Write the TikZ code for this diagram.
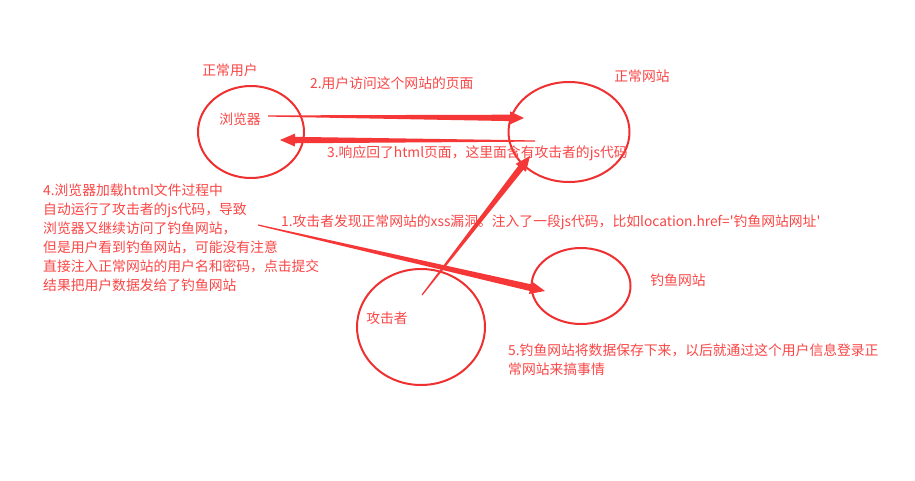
\documentclass[tikz,border=0pt]{standalone}
\usepackage{fontspec}
\setmainfont{Noto Sans CJK SC}
\usetikzlibrary{calc,shapes.geometric}
\definecolor{txtred}{RGB}{250,70,70}
\definecolor{lnred}{RGB}{238,48,48}
\definecolor{arred}{RGB}{245,55,55}
\tikzset{
  site/.style={ellipse, draw=lnred, line width=2pt, inner sep=0pt},
  txt/.style={text=txtred, inner sep=0pt, font=\fontsize{13.8}{19}\selectfont},
}
% tapered arrow: #1 start, #2 tip, #3 head length, #4 shaft half width, #5 head half width
\newcommand\taparrow[5]{%
  \coordinate (tah) at ($(#2)!#3!(#1)$);
  \fill[arred] ($(#1)!0.6pt!90:(#2)$) -- ($(tah)!#4!-90:(#1)$) -- ($(tah)!#5!-90:(#1)$)
    -- (#2) -- ($(tah)!#5!90:(#1)$) -- ($(tah)!#4!90:(#1)$) -- ($(#1)!0.6pt!-90:(#2)$) -- cycle;}
\begin{document}
\begin{tikzpicture}[x=1pt,y=-1pt]
\useasboundingbox[fill=white] (0,0) rectangle (915,480);
% ellipses
\node[site, minimum width=106pt, minimum height=92pt] (browser) at (251,132) {};
\node[site, minimum width=121pt, minimum height=100pt] (website) at (569,132) {};
\node[site, minimum width=99pt, minimum height=76pt] (phish) at (581,286) {};
\node[site, minimum width=128pt, minimum height=116pt] (attacker) at (421,327) {};
% labels
\node[txt] (userlbl) at (230,70) {正常用户};
\node[txt] (browserlbl) at (240,119) {浏览器};
\node[txt] (sitelbl) at (642,76) {正常网站};
\node[txt] (phishlbl) at (678,280) {钓鱼网站};
\node[txt] (attlbl) at (387,318) {攻击者};
\node[txt, anchor=west] (step2) at (310,83) {2.用户访问这个网站的页面};
\node[txt, anchor=west] (step3) at (327,153) {3.响应回了html页面，这里面含有攻击者的js代码};
\node[txt, anchor=west] (step1) at (281,222) {1.攻击者发现正常网站的xss漏洞。注入了一段js代码，比如location.href=\textquotesingle 钓鱼网站网址\textquotesingle};
\node[txt, anchor=north west, align=left] (step4) at (43,184) {4.浏览器加载html文件过程中\\自动运行了攻击者的js代码，导致\\浏览器又继续访问了钓鱼网站，\\但是用户看到钓鱼网站，可能没有注意\\直接注入正常网站的用户名和密码，点击提交\\结果把用户数据发给了钓鱼网站};
\node[txt, anchor=north west, align=left] (step5) at (508,344) {5.钓鱼网站将数据保存下来，以后就通过这个用户信息登录正\\常网站来搞事情};
% arrow endpoints
\coordinate (a2s) at (268,116);
\coordinate (a2t) at (524,118);
\coordinate (a3s) at (535,141);
\coordinate (a3t) at (280,140);
\coordinate (a1s) at (422,295);
\coordinate (a1t) at (530,156);
\coordinate (a4s) at (258,225);
\coordinate (a4t) at (545,291);
\taparrow{a2s}{a2t}{14pt}{3.2pt}{6.5pt}
\taparrow{a3s}{a3t}{15pt}{3.2pt}{6.5pt}
\taparrow{a1s}{a1t}{15pt}{3.2pt}{6.5pt}
\taparrow{a4s}{a4t}{15pt}{3.4pt}{6.5pt}
\end{tikzpicture}
\end{document}
